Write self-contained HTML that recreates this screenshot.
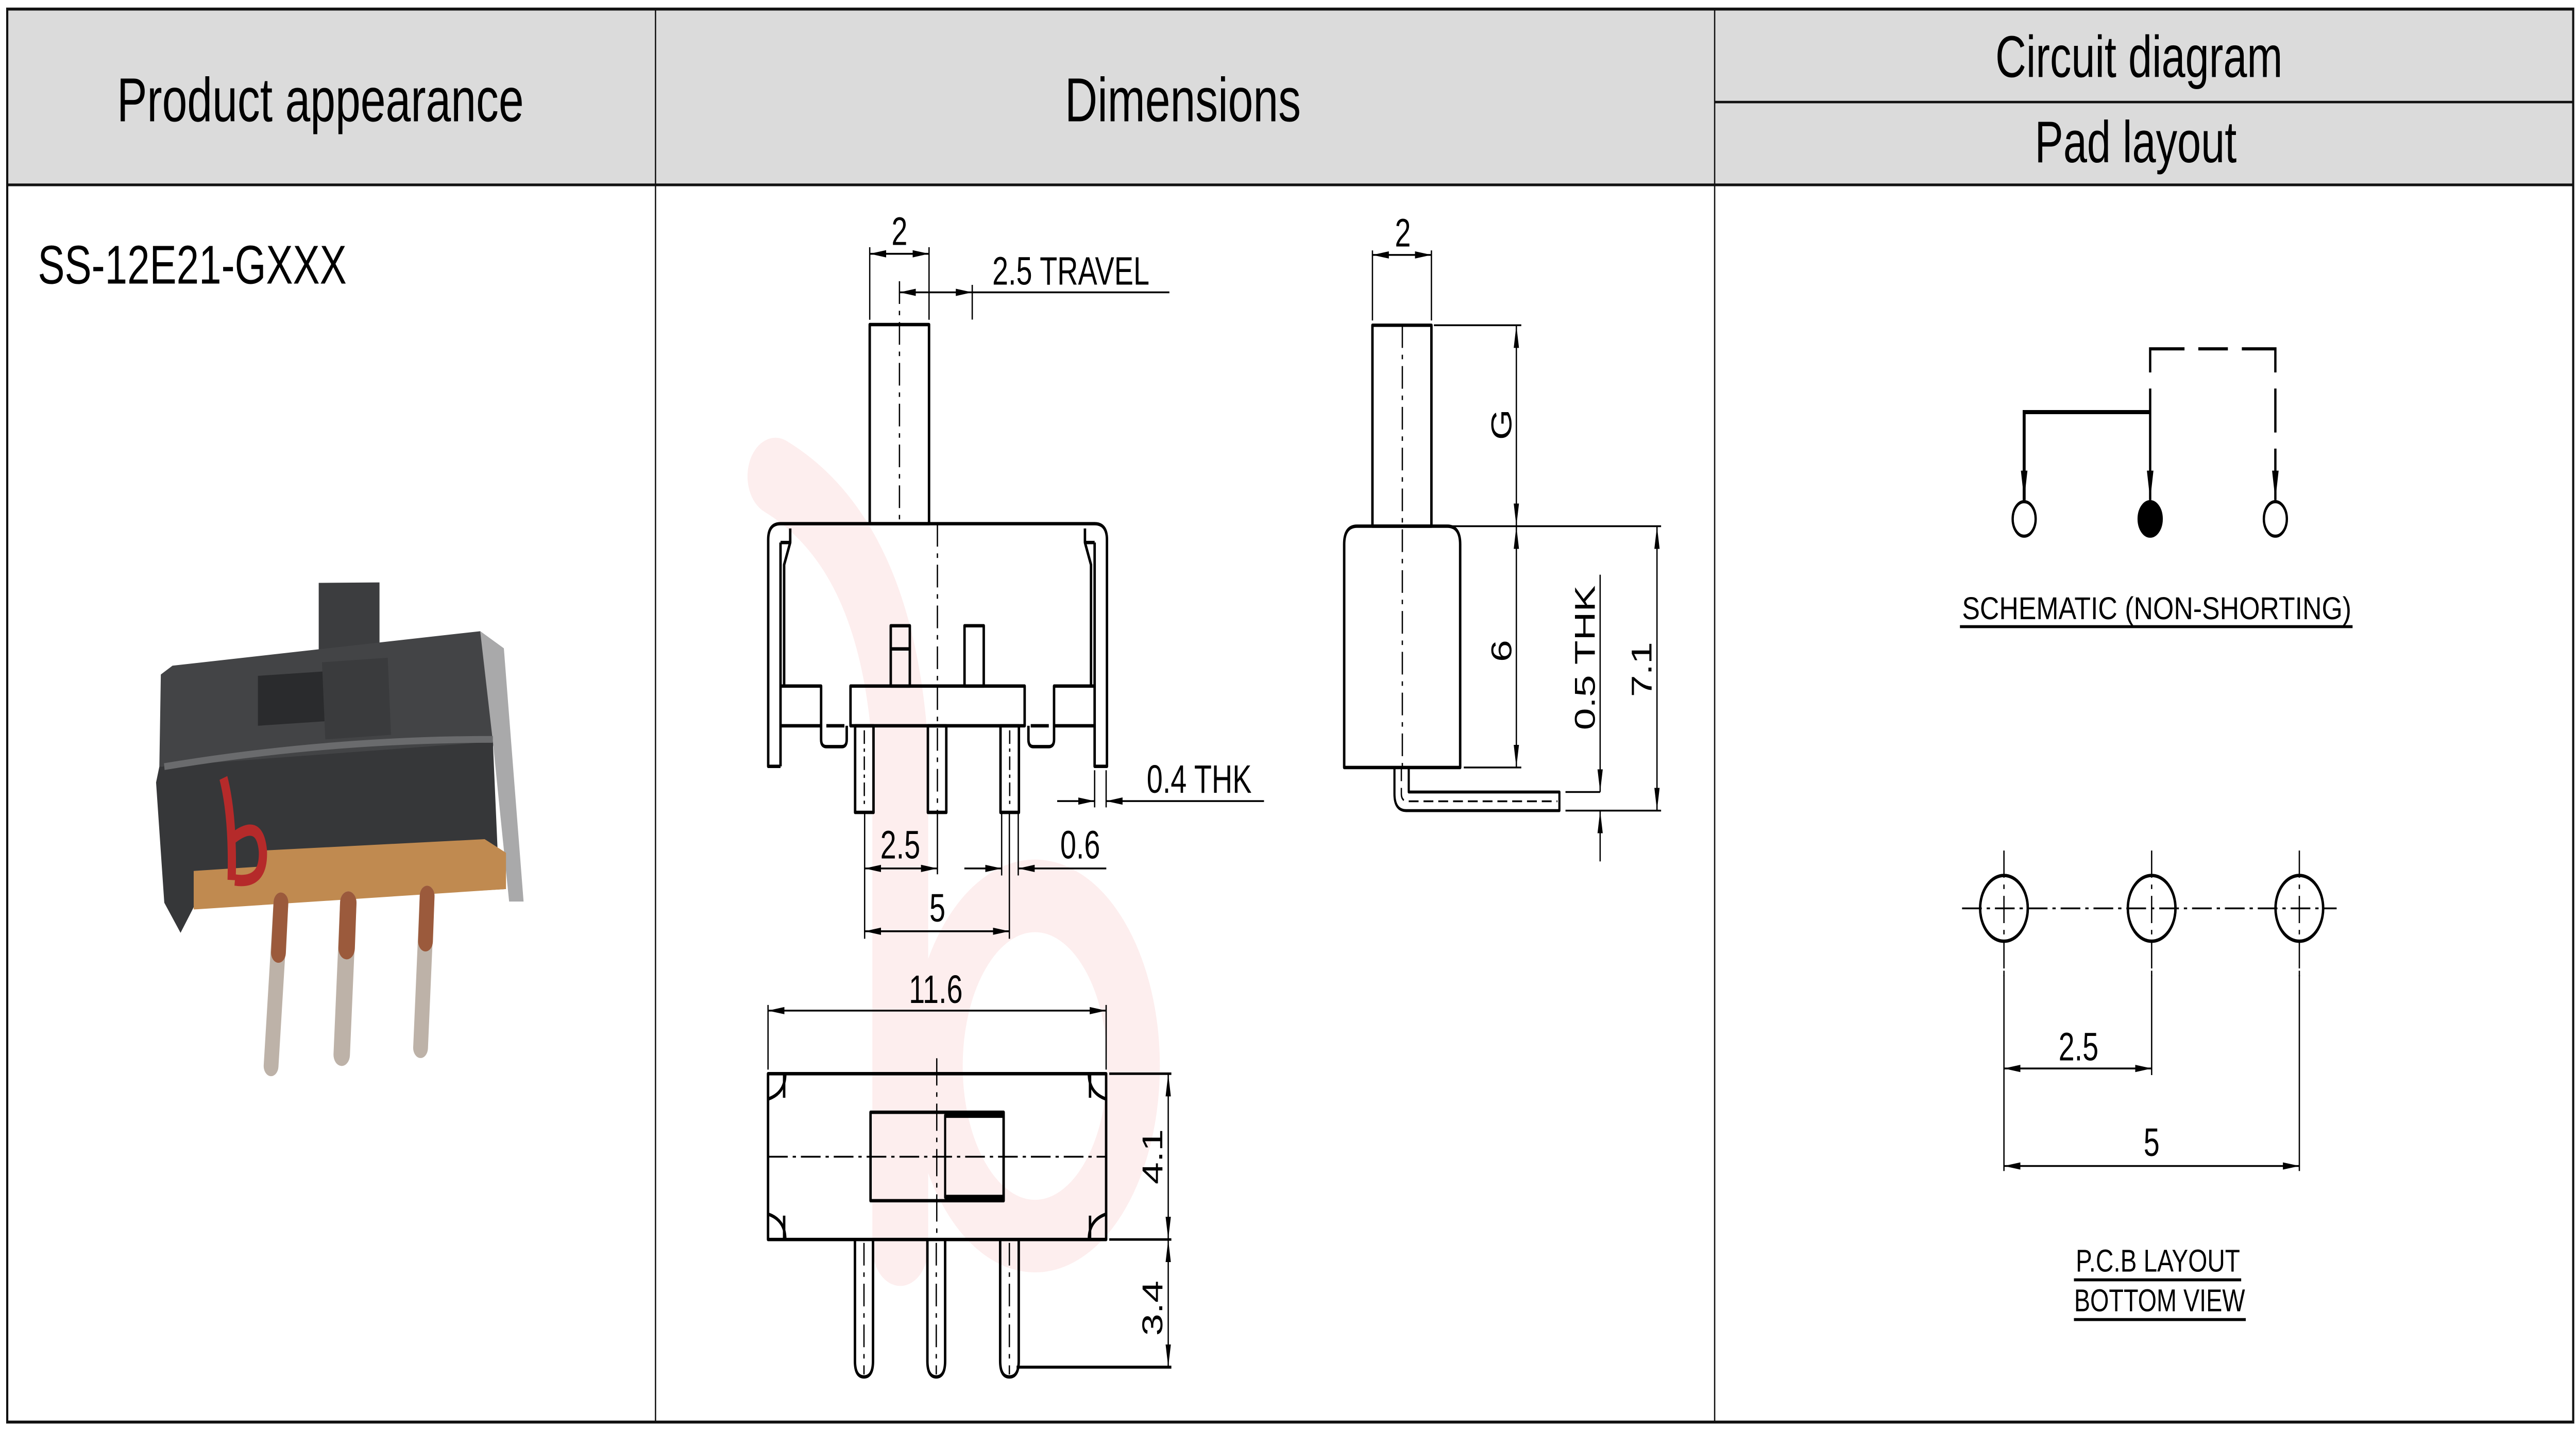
<!DOCTYPE html>
<html><head><meta charset="utf-8"><style>
html,body{margin:0;padding:0;background:#fff;width:100%;height:100%;overflow:hidden;}
svg{display:block;width:100vw;height:100vh;}
text{font-family:"Liberation Sans",Arial,sans-serif;fill:#000;}
</style></head><body>
<svg xmlns="http://www.w3.org/2000/svg" viewBox="0 0 1568 630.5" preserveAspectRatio="none">
<defs>
<marker id="a" viewBox="0 -2 10 4" refX="10" refY="0" markerWidth="10" markerHeight="4" markerUnits="userSpaceOnUse" orient="auto-start-reverse"><path d="M0,-1.6 L10,0 L0,1.6 z" fill="#000"/></marker>
<marker id="b" viewBox="0 -2.5 13 5" refX="13" refY="0" markerWidth="13" markerHeight="5" markerUnits="userSpaceOnUse" orient="auto"><path d="M0,-2 L13,0 L0,2 z" fill="#000"/></marker>
</defs>
<rect x="0" y="0" width="1568" height="630.5" fill="#fff"/>
<!-- header -->
<rect x="4.4" y="4" width="1561.9" height="77.5" fill="#dbdbdb"/>
<g stroke="#111" fill="none">
<rect x="4.4" y="4" width="1561.9" height="623" stroke-width="1.3"/>
<line x1="4.4" y1="81.5" x2="1566.3" y2="81.5" stroke-width="1.2"/>
<line x1="399" y1="4" x2="399" y2="627" stroke-width="0.8"/>
<line x1="1043.7" y1="4" x2="1043.7" y2="627" stroke-width="0.8"/>
<line x1="1043.7" y1="45" x2="1566.3" y2="45" stroke-width="1.1"/>
</g>
<text x="195" y="53.5" font-size="27.5" text-anchor="middle">Product appearance</text>
<text x="720" y="53.5" font-size="27.5" text-anchor="middle">Dimensions</text>
<text x="1302" y="34" font-size="26" text-anchor="middle">Circuit diagram</text>
<text x="1300" y="71.5" font-size="26" text-anchor="middle">Pad layout</text>
<text x="23" y="125" font-size="24" textLength="188" lengthAdjust="spacingAndGlyphs">SS-12E21-GXXX</text>

<!-- photo -->
<g>
<polygon points="194,257 231,256.8 231,300 194,300" fill="#3c3d3f"/>
<polygon points="97.9,297.4 105,293.5 292.3,278.3 306.7,285.9 300,330 97,338" fill="#434446"/>
<polygon points="292.3,278.3 306.7,285.9 318.7,397.5 309.9,397.5 300,327" fill="#a9a9aa"/>
<polygon points="97,338 300,327 303.5,385 308,392 117.9,400 109.9,411.3 100,398 95,345" fill="#363739"/>
<polygon points="157,298 198,296 198,318 157,320" fill="#2a2b2d"/>
<polygon points="196,292 236,290 238,324 198,326" fill="#3a3b3d"/>
<path d="M100,338 Q200,326 300,326" stroke="#6a6b6d" stroke-width="3" fill="none"/>
<polygon points="117.9,384 160,382 160,375 295,370 308,376 308,392 117.9,401" fill="#c08a50"/>
<g stroke-linecap="round">
<line x1="171" y1="398" x2="165" y2="470" stroke="#bdb2a8" stroke-width="9"/>
<line x1="171" y1="398" x2="169.5" y2="420" stroke="#9b5a3c" stroke-width="9"/>
<line x1="212" y1="398" x2="208" y2="465" stroke="#bdb2a8" stroke-width="10"/>
<line x1="212" y1="398" x2="211" y2="418" stroke="#9b5a3c" stroke-width="10"/>
<line x1="260" y1="395" x2="256" y2="462" stroke="#bdb2a8" stroke-width="9"/>
<line x1="260" y1="395" x2="259" y2="415" stroke="#9b5a3c" stroke-width="9"/>
</g>
<path d="M136,343 Q142,360 141,388 M141,370 Q158,360 160,375 Q161,390 143,388" stroke="#b52a2a" stroke-width="5" fill="none"/>
</g>

<!-- watermark -->
<g fill="none" stroke="#fdeeee" stroke-linecap="round">
<path d="M472,210 Q540,240 548,330 L548,550" stroke-width="34"/>
<ellipse cx="630" cy="470" rx="60" ry="75" stroke-width="32"/>
</g>

<!-- FRONT VIEW -->
<g stroke="#000" fill="none" stroke-width="1.5" stroke-linejoin="round">
<rect x="529.4" y="143.1" width="36.1" height="87.8"/>
<path d="M475.1,337.9 H467.6 V238 Q467.6,230.9 475,230.9 H666.3 Q673.8,230.9 673.8,238 V337.9 H666.3 V239.2"/>
<path d="M475.1,239.2 V337.9"/>
<path d="M475.1,239.2 H481 V233 M481,239.2 L477.3,249 V302.5"/>
<path d="M666.3,239.2 H660.4 V233 M660.4,239.2 L664.1,249 V302.5"/>
<path d="M475.1,302.5 H499.8 V326 Q499.8,329.2 503,329.2 H512.5 Q515.4,329.2 515.4,326 V320"/>
<path d="M666.3,302.5 H641.6 V326 Q641.6,329.2 638.4,329.2 H628.9 Q626,329.2 626,326 V320"/>
<line x1="475.1" y1="320" x2="499.8" y2="320"/>
<line x1="641.6" y1="320" x2="666.3" y2="320"/>
<line x1="503" y1="320" x2="514" y2="320"/>
<line x1="627.4" y1="320" x2="638.4" y2="320"/>
<rect x="517.7" y="302.5" width="106" height="17.5"/>
<rect x="542.2" y="275.9" width="11.6" height="26.6"/>
<line x1="542.2" y1="286.1" x2="553.8" y2="286.1"/>
<rect x="587.1" y="275.9" width="11.7" height="26.6"/>
<rect x="520.5" y="320" width="11.2" height="38.2"/>
<rect x="564.8" y="320" width="11.2" height="38.2"/>
<rect x="609" y="320" width="11.2" height="38.2"/>
</g>
<g stroke="#000" fill="none" stroke-width="0.8">
<line x1="547.5" y1="124" x2="547.5" y2="230.9" stroke-dasharray="10,3,2,3"/>
<line x1="570.6" y1="231" x2="570.6" y2="358" stroke-dasharray="10,3,2,3"/>
<line x1="526.1" y1="322" x2="526.1" y2="356" stroke-dasharray="6,2,1.5,2"/>
<line x1="614.6" y1="322" x2="614.6" y2="356" stroke-dasharray="6,2,1.5,2"/>
<line x1="529.4" y1="109" x2="529.4" y2="141"/>
<line x1="565.5" y1="109" x2="565.5" y2="141"/>
<line x1="529.4" y1="111.9" x2="565.5" y2="111.9" marker-start="url(#a)" marker-end="url(#a)"/>
<line x1="547.5" y1="128.9" x2="591.8" y2="128.9" marker-start="url(#a)" marker-end="url(#a)"/>
<line x1="591.8" y1="128.9" x2="711.8" y2="128.9"/>
<line x1="591.8" y1="125.6" x2="591.8" y2="140.9"/>
<line x1="666.3" y1="339.6" x2="666.3" y2="356"/>
<line x1="673.3" y1="339.6" x2="673.3" y2="356"/>
<line x1="643.5" y1="353.2" x2="666.3" y2="353.2" marker-end="url(#a)"/>
<line x1="769.4" y1="353.2" x2="673.3" y2="353.2" marker-end="url(#a)"/>
<line x1="526.3" y1="358.2" x2="526.3" y2="413.9"/>
<line x1="570.6" y1="358.2" x2="570.6" y2="385.5"/>
<line x1="609.7" y1="358.2" x2="609.7" y2="386"/>
<line x1="619.8" y1="358.2" x2="619.8" y2="386"/>
<line x1="614.4" y1="358.2" x2="614.4" y2="413.9"/>
<line x1="526.3" y1="382.9" x2="570.6" y2="382.9" marker-start="url(#a)" marker-end="url(#a)"/>
<line x1="587" y1="382.9" x2="609.7" y2="382.9" marker-end="url(#a)"/>
<line x1="673.4" y1="382.9" x2="619.8" y2="382.9" marker-end="url(#a)"/>
<line x1="526.3" y1="410.6" x2="614.4" y2="410.6" marker-start="url(#a)" marker-end="url(#a)"/>
</g>
<g font-size="17.5">
<text x="547.5" y="108" text-anchor="middle">2</text>
<text x="604" y="125.5">2.5 TRAVEL</text>
<text x="698" y="349.5">0.4 THK</text>
<text x="548" y="378.5" text-anchor="middle">2.5</text>
<text x="657.5" y="378.5" text-anchor="middle">0.6</text>
<text x="570.6" y="406.3" text-anchor="middle">5</text>
</g>

<!-- SIDE VIEW -->
<g stroke="#000" fill="none" stroke-width="1.5" stroke-linejoin="round">
<rect x="835.4" y="143.4" width="35.9" height="88.6"/>
<path d="M818.2,338.4 V240 Q818.2,232 826,232 H881 Q888.8,232 888.8,240 V338.4 Z"/>
<path d="M848.8,338.4 V350 Q848.8,357.4 856,357.4 H949.2 V349.2 H857.5 V338.4" stroke-width="1.3"/>
</g>
<g stroke="#000" fill="none" stroke-width="0.8">
<line x1="853.6" y1="143.4" x2="853.6" y2="338.4" stroke-dasharray="10,3,2,3"/>
<path d="M853,338.4 V350 Q853,353.3 857,353.3 H948" stroke-dasharray="6,3"/>
<line x1="835.4" y1="110.4" x2="835.4" y2="141.3"/>
<line x1="871.3" y1="110.4" x2="871.3" y2="141.3"/>
<line x1="835.4" y1="112.4" x2="871.3" y2="112.4" marker-start="url(#a)" marker-end="url(#a)"/>
<line x1="872.8" y1="143.4" x2="926" y2="143.4"/>
<line x1="882.3" y1="232" x2="1011.1" y2="232"/>
<line x1="891" y1="338.4" x2="926" y2="338.4"/>
<line x1="952.9" y1="357.4" x2="1011.1" y2="357.4"/>
<line x1="952.9" y1="349.2" x2="974" y2="349.2"/>
<line x1="923" y1="143.4" x2="923" y2="232" marker-start="url(#a)" marker-end="url(#a)"/>
<line x1="923" y1="232" x2="923" y2="338.4" marker-start="url(#a)" marker-end="url(#a)"/>
<line x1="1008.6" y1="232" x2="1008.6" y2="357.4" marker-start="url(#a)" marker-end="url(#a)"/>
<line x1="974" y1="253.4" x2="974" y2="349.2" marker-end="url(#a)"/>
<line x1="974" y1="379.8" x2="974" y2="357.4" marker-end="url(#a)"/>
</g>
<g font-size="17.5" text-anchor="middle">
<text x="853.9" y="108.7">2</text>
<text transform="translate(920,187.2) rotate(-90)">G</text>
<text transform="translate(920,287) rotate(-90)">6</text>
<text transform="translate(1005.3,295.2) rotate(-90)">7.1</text>
<text transform="translate(970.8,290) rotate(-90)">0.5 THK</text>
</g>

<!-- TOP VIEW -->
<g stroke="#000" fill="none" stroke-width="1.5" stroke-linejoin="round">
<rect x="467.5" y="473.4" width="205.8" height="73.1"/>
<path d="M467.5,484.6 Q478,482 478,473.4 M477.3,473.4 V484"/>
<path d="M673.3,484.6 Q662.8,482 662.8,473.4 M663.5,473.4 V484"/>
<path d="M467.5,535.3 Q478,537.9 478,546.5 M477.3,546.5 V536"/>
<path d="M673.3,535.3 Q662.8,537.9 662.8,546.5 M663.5,546.5 V536"/>
<rect x="529.9" y="490.4" width="81" height="39"/>
<rect x="575.3" y="491.7" width="35.6" height="36.3" stroke-width="1.3"/>
<line x1="575.3" y1="491.4" x2="610.9" y2="491.4" stroke-width="3"/>
<line x1="575.3" y1="528.3" x2="610.9" y2="528.3" stroke-width="3"/>
<path d="M520.4,546.5 V600 Q520.4,607.1 525.9,607.1 Q531.4,607.1 531.4,600 V546.5"/>
<path d="M564.5,546.5 V600 Q564.5,607.1 569.9,607.1 Q575.3,607.1 575.3,600 V546.5"/>
<path d="M608.8,546.5 V600 Q608.8,607.1 614.4,607.1 Q620.1,607.1 620.1,600 V546.5"/>
</g>
<g stroke="#000" fill="none" stroke-width="0.8">
<line x1="467.5" y1="510" x2="673.3" y2="510" stroke-dasharray="12,3,2,3"/>
<line x1="570.2" y1="466.6" x2="570.2" y2="546.5" stroke-dasharray="12,3,2,3"/>
<line x1="525.9" y1="548" x2="525.9" y2="606" stroke-dasharray="10,3,2,3"/>
<line x1="569.9" y1="548" x2="569.9" y2="606" stroke-dasharray="10,3,2,3"/>
<line x1="614.4" y1="548" x2="614.4" y2="606" stroke-dasharray="10,3,2,3"/>
<line x1="467.5" y1="443.1" x2="467.5" y2="471.6"/>
<line x1="673.3" y1="443.1" x2="673.3" y2="471.6"/>
<line x1="467.5" y1="445.6" x2="673.3" y2="445.6" marker-start="url(#a)" marker-end="url(#a)"/>
<line x1="675.2" y1="473.4" x2="713" y2="473.4" stroke-width="1.1"/>
<line x1="675.2" y1="546.5" x2="713" y2="546.5" stroke-width="1.1"/>
<line x1="618.8" y1="602.8" x2="713" y2="602.8" stroke-width="1.3"/>
<line x1="711.1" y1="473.4" x2="711.1" y2="546.5" marker-start="url(#a)" marker-end="url(#a)"/>
<line x1="711.1" y1="546.5" x2="711.1" y2="602.8" marker-start="url(#a)" marker-end="url(#a)"/>
</g>
<g font-size="17.5" text-anchor="middle">
<text x="569.6" y="442.2">11.6</text>
<text transform="translate(707.5,510) rotate(-90)">4.1</text>
<text transform="translate(707.5,576.8) rotate(-90)">3.4</text>
</g>

<!-- SCHEMATIC -->
<g stroke="#000" fill="none" stroke-width="1.4">
<path d="M1308.8,164.2 V153.8 H1329.7 M1338.1,153.8 H1356.1 M1364.6,153.8 H1385 V164.2"/>
<line x1="1385" y1="171.3" x2="1385" y2="190.7"/>
<line x1="1385" y1="197.8" x2="1385" y2="220.5" marker-end="url(#b)"/>
<line x1="1308.8" y1="171.3" x2="1308.8" y2="220.5" marker-end="url(#b)"/>
<path d="M1308.8,181.7 H1232.1 V220.5" stroke-width="1.8" marker-end="url(#b)"/>
<ellipse cx="1232.1" cy="228.8" rx="7" ry="7.6"/>
<ellipse cx="1308.8" cy="228.8" rx="7" ry="7.6" fill="#000"/>
<ellipse cx="1385" cy="228.8" rx="7" ry="7.6"/>
<line x1="1193" y1="276.3" x2="1432" y2="276.3" stroke-width="1.3"/>
</g>
<text x="1194.3" y="273" font-size="14" textLength="237" lengthAdjust="spacingAndGlyphs">SCHEMATIC (NON-SHORTING)</text>

<!-- PCB -->
<g stroke="#000" fill="none" stroke-width="1.5">
<circle cx="1219.8" cy="400.5" r="14.5"/>
<circle cx="1309.7" cy="400.5" r="14.5"/>
<circle cx="1399.6" cy="400.5" r="14.5"/>
</g>
<g stroke="#000" fill="none" stroke-width="0.8">
<line x1="1194.3" y1="400.5" x2="1422.3" y2="400.5" stroke-dasharray="12,3,2,3"/>
<line x1="1219.8" y1="375" x2="1219.8" y2="430.4" stroke-dasharray="12,3,2,3"/>
<line x1="1309.7" y1="375" x2="1309.7" y2="430.4" stroke-dasharray="12,3,2,3"/>
<line x1="1399.6" y1="375" x2="1399.6" y2="430.4" stroke-dasharray="12,3,2,3"/>
<line x1="1219.8" y1="428" x2="1219.8" y2="516.3"/>
<line x1="1309.7" y1="428" x2="1309.7" y2="474"/>
<line x1="1399.6" y1="428" x2="1399.6" y2="516.3"/>
<line x1="1219.8" y1="471.1" x2="1309.7" y2="471.1" marker-start="url(#a)" marker-end="url(#a)"/>
<line x1="1219.8" y1="514.1" x2="1399.6" y2="514.1" marker-start="url(#a)" marker-end="url(#a)"/>
<line x1="1262.4" y1="564.3" x2="1364.2" y2="564.3" stroke-width="1.3"/>
<line x1="1262.4" y1="581.8" x2="1367" y2="581.8" stroke-width="1.3"/>
</g>
<g font-size="17.5" text-anchor="middle">
<text x="1265.2" y="467.5">2.5</text>
<text x="1309.7" y="509.7">5</text>
</g>
<text x="1313.5" y="560.7" font-size="14" text-anchor="middle" textLength="100" lengthAdjust="spacingAndGlyphs">P.C.B LAYOUT</text>
<text x="1314.5" y="578.2" font-size="14" text-anchor="middle" textLength="104" lengthAdjust="spacingAndGlyphs">BOTTOM VIEW</text>
</svg>
</body></html>
